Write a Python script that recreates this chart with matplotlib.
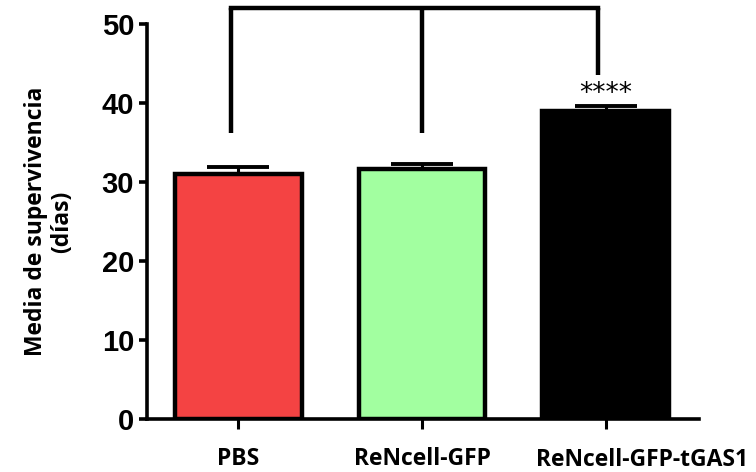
import numpy as np
import matplotlib.pyplot as plt

# survival data (mean days, SEM)
groups = ['PBS', 'ReNcell-GFP', 'ReNcell-GFP-tGAS1']
means = [31.0, 31.7, 39.0]
sems = [0.9, 0.6, 0.6]
colors = ['#F44343', '#A2FFA0', '#000000']
yticks = [0, 10, 20, 30, 40, 50]

# comparison bracket: leg x positions, leg bottoms, top height
bracket_x = [-0.04, 1.0, 1.96]
bracket_bottom = [36.2, 36.2, 43.6]
bracket_top = 52.0
signif = '****'
signif_y = 41.1

fig = plt.figure(figsize=(7.56, 4.72), dpi=100)
ax = fig.add_axes([0.194, 0.112, 0.731, 0.837])

x = np.arange(len(groups))
ax.bar(x, means, width=0.69, color=colors, edgecolor='black', linewidth=3.2, zorder=2)
ax.errorbar(x, means, yerr=[np.zeros(len(sems)), sems], fmt='none', ecolor='black',
            elinewidth=2.2, capsize=22, capthick=2.8, zorder=1)

ax.set_xlim(-0.5, 2.51)
ax.set_ylim(0, 50)
ax.set_yticks(yticks)
ax.set_xticks(x)
lab_font = dict(fontfamily='Open Sans', fontweight='bold', fontsize=16.5)
# the long last label is drawn shifted right of its tick
ax.set_xticklabels(groups[:-1] + [''], **lab_font)
ax.text(x[-1] + 0.2, -0.072, groups[-1], transform=ax.get_xaxis_transform(),
        ha='center', va='top', **lab_font)
ax.set_yticklabels([str(v) for v in yticks], fontfamily='Liberation Sans', fontweight='bold', fontsize=21)

ax.set_ylabel('Media de supervivencia\n(días)', fontfamily='Open Sans', fontweight='bold',
              fontsize=16.5, labelpad=20, linespacing=1.1)

for s in ['top', 'right']:
    ax.spines[s].set_visible(False)
for s in ['left', 'bottom']:
    ax.spines[s].set_linewidth(2.6)
ax.tick_params(axis='y', length=6, width=2.6, pad=3)
ax.tick_params(axis='x', length=7, width=2.2, pad=13)

# bracket
lw = 3.2
ax.plot([bracket_x[0], bracket_x[-1]], [bracket_top, bracket_top], color='black', lw=lw,
        clip_on=False, solid_capstyle='projecting')
for bx, bb in zip(bracket_x, bracket_bottom):
    ax.plot([bx, bx], [bb, bracket_top], color='black', lw=lw, clip_on=False,
            solid_capstyle='butt')
ax.text(2.0, signif_y, signif, ha='center', va='center', fontsize=19, fontfamily='DejaVu Sans')

fig.savefig('out.png', dpi=100)
